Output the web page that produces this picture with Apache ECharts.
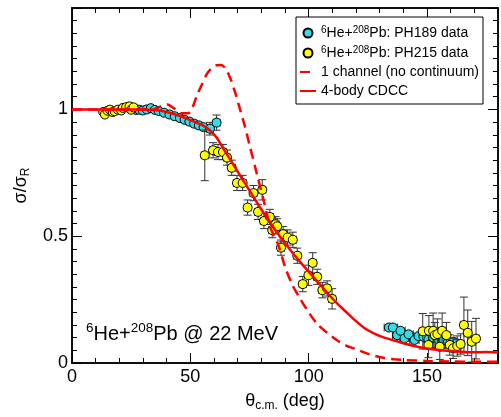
<!DOCTYPE html>
<html><head><meta charset="utf-8">
<script src="https://cdn.jsdelivr.net/npm/echarts@6/dist/echarts.min.js"></script>
<style>html,body{margin:0;padding:0;background:#fff}#c{width:501px;height:417px}</style>
</head><body><div id="c"></div>
<script>
// ---- data ----
const cyanX = [27.0, 28.3, 29.9, 31.6, 33.3, 35.0, 36.6, 38.9, 41.2, 43.4, 45.6, 47.6, 49.6, 51.6, 53.6, 55.6, 58.3, 61.1, 133.9, 135.6, 137.4, 138.8, 140.5, 142.2, 144.7, 146.4, 148.5, 150.6, 152.6, 154.7, 156.8, 158.9, 161.0, 162.4];
const cyanY = [0.998, 0.999, 0.996, 1.0, 1.005, 0.998, 0.994, 0.987, 0.98, 0.973, 0.966, 0.959, 0.952, 0.944, 0.937, 0.93, 0.924, 0.948, 0.140, 0.140, 0.110, 0.127, 0.097, 0.113, 0.091, 0.106, 0.104, 0.093, 0.100, 0.093, 0.091, 0.084, 0.084, 0.077];
const cyanXErr = [1, 1, 1, 1, 1, 1, 1, 1.2, 1.2, 1.2, 1.2, 1.2, 1.2, 1.2, 1.2, 1.2, 1.5, 1.5, 2, 2, 2, 2, 2, 2, 2, 2, 2, 2, 2, 2, 2, 2, 2, 2];
const cyanYErr = [0.005, 0.005, 0.005, 0.005, 0.005, 0.005, 0.005, 0.006, 0.006, 0.006, 0.006, 0.007, 0.008, 0.008, 0.01, 0.01, 0.025, 0.03, 0.012, 0.012, 0.012, 0.012, 0.012, 0.012, 0.012, 0.012, 0.012, 0.012, 0.012, 0.012, 0.012, 0.012, 0.012, 0.012];

const yellowX = [13.2, 13.9, 15.0, 16.0, 17.2, 18.0, 19.4, 20.8, 21.5, 22.9, 24.3, 25.0, 26.0,
  56.1, 59.6, 61.7, 63.8, 65.5, 67.5, 69.7, 72.1, 74.2, 76.7, 78.6, 80.4, 81.1, 83.6, 84.6, 86.0, 86.7, 88.3, 89.2, 91.1, 93.3, 95.2, 97.5, 99.9, 101.7, 103.6, 105.8, 107.8, 109.9,
  148.2, 150.6, 150.8, 152.6, 153.3, 154.4, 155.4, 156.4, 158.2, 159.6, 161.0, 162.8, 164.2, 165.6, 167.2, 168.9, 170.7];
const yellowY = [0.99, 0.98, 0.995, 0.999, 0.99, 0.993, 0.999, 0.996, 1.006, 1.009, 1.012, 0.999, 1.008,
  0.819, 0.839, 0.832, 0.832, 0.81, 0.77, 0.71, 0.71, 0.613, 0.67, 0.596, 0.683, 0.56, 0.576, 0.524, 0.547, 0.539, 0.455, 0.508, 0.495, 0.486, 0.423, 0.311, 0.346, 0.395, 0.34, 0.287, 0.294, 0.253,
  0.125, 0.071, 0.127, 0.127, 0.11, 0.114, 0.064, 0.127, 0.11, 0.071, 0.058, 0.067, 0.075, 0.150, 0.119, 0.084, 0.096];
const yellowXErr = [1, 1, 1, 1, 1, 1, 1, 1, 1, 1, 1, 1, 1,
  1.5, 1.5, 1.5, 1.5, 1.5, 1.5, 1.5, 1.5, 1.5, 1.5, 1.5, 1.5, 1.5, 1.5, 1.5, 1.5, 1.5, 1.5, 1.5, 1.5, 1.5, 1.5, 1.5, 1.5, 1.5, 1.5, 1.5, 1.5, 1.5,
  1.5, 1.5, 1.5, 1.5, 1.5, 1.5, 1.5, 1.5, 1.5, 1.5, 1.5, 1.5, 1.5, 1.5, 1.5, 1.5, 1.5];
const yellowYErr = [0.01, 0.01, 0.01, 0.01, 0.01, 0.01, 0.01, 0.01, 0.01, 0.01, 0.01, 0.01, 0.01,
  0.1, 0.03, 0.03, 0.03, 0.03, 0.03, 0.03, 0.03, 0.03, 0.03, 0.03, 0.04, 0.03, 0.03, 0.03, 0.03, 0.03, 0.03, 0.03, 0.03, 0.03, 0.03, 0.03, 0.04, 0.04, 0.03, 0.03, 0.03, 0.04,
  0.07, 0.05, 0.06, 0.07, 0.05, 0.06, 0.05, 0.07, 0.05, 0.04, 0.04, 0.04, 0.04, 0.11, 0.09, 0.08, 0.08];

const cdccX = [0, 10, 20, 30, 35, 40, 45, 50, 55, 58, 61, 64, 67, 70, 73, 76, 79, 82, 85, 88, 91, 94, 97, 100, 104, 108, 112, 116, 120, 124, 128, 132, 136, 140, 145, 150, 155, 160, 165, 170, 175, 180];
const cdccY = [1.0, 1.0, 1.0, 1.0, 0.998, 0.99, 0.976, 0.958, 0.938, 0.92, 0.89, 0.845, 0.80, 0.755, 0.71, 0.665, 0.62, 0.578, 0.537, 0.497, 0.46, 0.425, 0.392, 0.36, 0.318, 0.275, 0.235, 0.2, 0.165, 0.135, 0.115, 0.1, 0.089, 0.078, 0.066, 0.057, 0.051, 0.047, 0.044, 0.042, 0.043, 0.041];

const oneChX = [0, 10, 20, 30, 35, 37, 40, 43, 46, 49, 51, 53, 55, 57, 59, 61, 63, 65, 67, 69, 71, 73, 75, 78, 81, 84, 87, 90, 93, 96, 100, 104, 108, 112, 116, 120, 124, 128, 132, 136, 140, 150, 160, 170, 180];
const oneChY = [1.0, 1.0, 1.0, 1.0, 1.0, 1.01, 1.02, 1.005, 0.985, 0.985, 1.01, 1.06, 1.10, 1.14, 1.163, 1.174, 1.175, 1.16, 1.12, 1.065, 1.0, 0.935, 0.86, 0.75, 0.64, 0.53, 0.47, 0.38, 0.31, 0.26, 0.2, 0.15, 0.118, 0.09, 0.068, 0.055, 0.04, 0.028, 0.02, 0.015, 0.012, 0.008, 0.006, 0.005, 0.005];

const xTickLabels = [0, 50, 100, 150];
const yTickLabels = [0, 0.5, 1];
const legendNames = ['PH189', 'PH215', '1 channel (no continuum)', '4-body CDCC'];

// ---- build ----
const FONT = "'Liberation Sans', Arial, Helvetica, sans-serif";
const zip = (a, b) => a.map((v, i) => [v, b[i]]);
const errData = (x, y, xe, ye) => x.map((v, i) => [v, y[i], xe[i], ye[i]]);

function errRender(params, api) {
  const x = api.value(0), y = api.value(1), xe = api.value(2), ye = api.value(3);
  const t = api.coord([x, y + ye]), b = api.coord([x, y - ye]);
  const l = api.coord([x - xe, y]), r = api.coord([x + xe, y]);
  const cap = 4;
  const st = { stroke: '#333', lineWidth: 1 };
  const lines = [
    [t[0], t[1], b[0], b[1]],
    [t[0] - cap, t[1], t[0] + cap, t[1]],
    [b[0] - cap, b[1], b[0] + cap, b[1]],
    [l[0], l[1], r[0], r[1]],
    [l[0], l[1] - cap, l[0], l[1] + cap],
    [r[0], r[1] - cap, r[0], r[1] + cap]
  ];
  return { type: 'group', children: lines.map(p => ({ type: 'line', shape: { x1: p[0], y1: p[1], x2: p[2], y2: p[3] }, style: st })) };
}

function xAx(pos, interval, len, showLabel) {
  return {
    type: 'value', position: pos, min: 0, max: 180, interval: interval,
    axisLine: { show: true, onZero: false, lineStyle: { color: '#000', width: 1.5 } },
    axisTick: { show: true, inside: true, length: len, lineStyle: { color: '#000', width: 1 } },
    splitLine: { show: false },
    axisLabel: showLabel ? {
      show: true, margin: 5, color: '#000', fontFamily: FONT, fontSize: 18,
      formatter: v => (xTickLabels.some(t => Math.abs(t - v) < 1e-6) ? String(Math.round(v)) : '')
    } : { show: false }
  };
}
function yAx(pos, interval, len, showLabel) {
  return {
    type: 'value', position: pos, min: 0, max: 1.4, interval: interval,
    axisLine: { show: true, onZero: false, lineStyle: { color: '#000', width: 1.5 } },
    axisTick: { show: true, inside: true, length: len, lineStyle: { color: '#000', width: 1 } },
    splitLine: { show: false },
    axisLabel: showLabel ? {
      show: true, margin: 4, color: '#000', fontFamily: FONT, fontSize: 18,
      formatter: v => { const m = yTickLabels.find(t => Math.abs(t - v) < 1e-6); return m === undefined ? '' : String(m); }
    } : { show: false }
  };
}

const xAxes = [xAx('bottom', 10, 5, true), xAx('bottom', 50, 10, false), xAx('top', 10, 5, false), xAx('top', 50, 10, false)];
xAxes[0].name = '{t|θ}{s|c.m.}{t| (deg)}';
xAxes[0].nameLocation = 'middle';
xAxes[0].nameGap = 27;
xAxes[0].nameTextStyle = { color: '#000', fontFamily: FONT, rich: {
  t: { fontSize: 18, fontFamily: FONT, color: '#000', lineHeight: 22 },
  s: { fontSize: 12, fontFamily: FONT, color: '#000', lineHeight: 10, verticalAlign: 'bottom' } } };
const yAxes = [yAx('left', 0.05, 5, true), yAx('left', 0.5, 10, false), yAx('right', 0.05, 5, false), yAx('right', 0.5, 10, false)];
yAxes[0].name = '{t|σ/σ}{s|R}';
yAxes[0].nameLocation = 'middle';
yAxes[0].nameGap = 38;
yAxes[0].nameTextStyle = { color: '#000', fontFamily: FONT, rich: {
  t: { fontSize: 18, fontFamily: FONT, color: '#000', lineHeight: 22 },
  s: { fontSize: 12, fontFamily: FONT, color: '#000', lineHeight: 10, verticalAlign: 'bottom' } } };

const supRich = {
  m: { fontSize: 14, fontFamily: FONT, color: '#000', lineHeight: 16 },
  s: { fontSize: 10, fontFamily: FONT, color: '#000', lineHeight: 9, verticalAlign: 'top' }
};

const noSym = { opacity: 0 };
const chart = echarts.init(document.getElementById('c'), null, { renderer: 'canvas' });
chart.setOption({
  animation: false,
  backgroundColor: '#fff',
  grid: { left: 72, top: 8, width: 432, height: 355, containLabel: false },
  xAxis: xAxes,
  yAxis: yAxes,
  legend: {
    orient: 'vertical', left: 296, top: 17,
    padding: [8, 4, 6, 3], itemGap: 5, itemWidth: 16, itemHeight: 9,
    borderColor: '#000', borderWidth: 1, backgroundColor: '#fff',
    data: [
      { name: legendNames[0] },
      { name: legendNames[1] },
      { name: legendNames[2], itemStyle: noSym },
      { name: legendNames[3], itemStyle: noSym }
    ],
    formatter: n => {
      if (n === 'PH189') return '{s|6}{m|He+}{s|208}{m|Pb: PH189 data}';
      if (n === 'PH215') return '{s|6}{m|He+}{s|208}{m|Pb: PH215 data}';
      return '{m|' + n + '}';
    },
    textStyle: { color: '#000', fontFamily: FONT, fontSize: 14, rich: supRich }
  },
  graphic: [{
    type: 'text', left: 86, top: 321, z: 10,
    style: {
      text: '{s|6}{m|He+}{s|208}{m|Pb @ 22 MeV}',
      fill: '#000', font: '20px ' + FONT,
      rich: {
        m: { fontSize: 20, fontFamily: FONT, fill: '#000', lineHeight: 26 },
        s: { fontSize: 13.5, fontFamily: FONT, fill: '#000', lineHeight: 14, verticalAlign: 'top' }
      }
    }
  }],
  series: [
    { name: 'PH189err', type: 'custom', renderItem: errRender, data: errData(cyanX, cyanY, cyanXErr, cyanYErr), encode: { x: 0, y: 1 }, z: 2, silent: true },
    { name: 'PH189', type: 'scatter', data: zip(cyanX, cyanY), symbol: 'circle', symbolSize: 9,
      itemStyle: { color: '#33dde6', borderColor: '#000', borderWidth: 1, opacity: 1 }, z: 3 },
    { name: 'PH215err', type: 'custom', renderItem: errRender, data: errData(yellowX, yellowY, yellowXErr, yellowYErr), encode: { x: 0, y: 1 }, z: 4, silent: true },
    { name: 'PH215', type: 'scatter', data: zip(yellowX, yellowY), symbol: 'circle', symbolSize: 9,
      itemStyle: { color: '#ffff00', borderColor: '#000', borderWidth: 1, opacity: 1 }, z: 5 },
    { name: '1 channel (no continuum)', type: 'line', data: zip(oneChX, oneChY), symbol: 'none', smooth: 0.3,
      lineStyle: { color: '#ff0000', width: 2.5, type: [10, 6] }, itemStyle: { color: '#ff0000' }, z: 6 },
    { name: '4-body CDCC', type: 'line', data: zip(cdccX, cdccY), symbol: 'none', smooth: 0.3,
      lineStyle: { color: '#ff0000', width: 2.5 }, itemStyle: { color: '#ff0000' }, z: 7 }
  ]
});
</script></body></html>
